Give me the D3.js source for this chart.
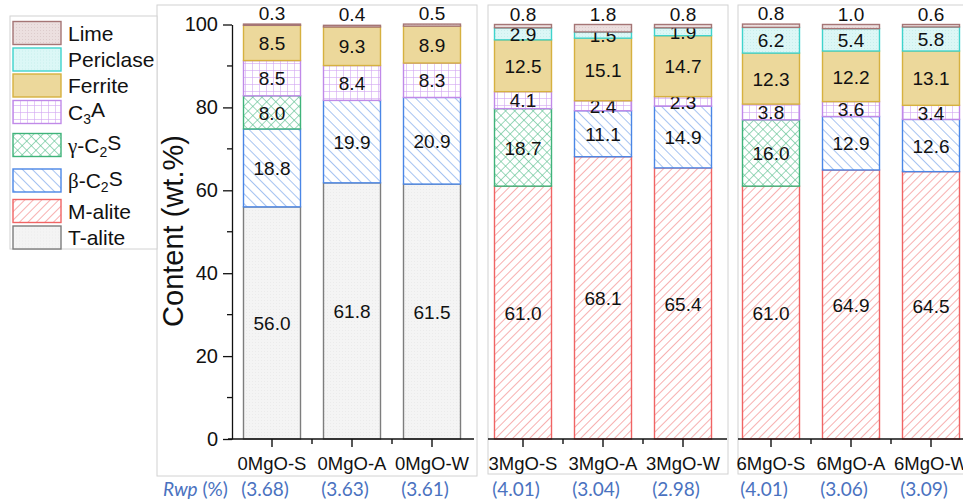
<!DOCTYPE html>
<html>
<head>
<meta charset="utf-8">
<script src="https://cdn.jsdelivr.net/npm/d3@7"></script>
<style>
  body { margin: 0; background: #fff; }
  text { font-family: "Liberation Sans", Arial, sans-serif; fill: #111; }
</style>
</head>
<body>
<script>
// samples and phase contents (wt.%)
var samples   = ["0MgO-S", "0MgO-A", "0MgO-W", "3MgO-S", "3MgO-A", "3MgO-W", "6MgO-S", "6MgO-A", "6MgO-W"];
var tAlite    = [56.0, 61.8, 61.5, 0, 0, 0, 0, 0, 0];
var mAlite    = [0, 0, 0, 61.0, 68.1, 65.4, 61.0, 64.9, 64.5];
var betaC2S   = [18.8, 19.9, 20.9, 0, 11.1, 14.9, 0, 12.9, 12.6];
var gammaC2S  = [8.0, 0, 0, 18.7, 0, 0, 16.0, 0, 0];
var c3a       = [8.5, 8.4, 8.3, 4.1, 2.4, 2.3, 3.8, 3.6, 3.4];
var ferrite   = [8.5, 9.3, 8.9, 12.5, 15.1, 14.7, 12.3, 12.2, 13.1];
var periclase = [0, 0, 0, 2.9, 1.5, 1.9, 6.2, 5.4, 5.8];
var lime      = [0.3, 0.4, 0.5, 0.8, 1.8, 0.8, 0.8, 1.0, 0.6];
var rwp       = ["3.68", "3.63", "3.61", "4.01", "3.04", "2.98", "4.01", "3.06", "3.09"];
var yTicks    = [0, 20, 40, 60, 80, 100];

// bottom to top
var keys = ["tAlite", "mAlite", "betaC2S", "gammaC2S", "c3a", "ferrite", "periclase", "lime"];
var phaseVals = {tAlite: tAlite, mAlite: mAlite, betaC2S: betaC2S, gammaC2S: gammaC2S,
                 c3a: c3a, ferrite: ferrite, periclase: periclase, lime: lime};

var style = {
  lime:      {fill: "url(#p-lime)",  stroke: "#a57575"},
  periclase: {fill: "url(#p-peri)",  stroke: "#3fd3cc"},
  ferrite:   {fill: "#ecd89b",       stroke: "#d6b13f"},
  c3a:       {fill: "url(#p-c3a)",   stroke: "#c08ae8"},
  gammaC2S:  {fill: "url(#p-gamma)", stroke: "#3fb37a"},
  betaC2S:   {fill: "url(#p-beta)",  stroke: "#4a86e6"},
  mAlite:    {fill: "url(#p-malite)",stroke: "#f06464"},
  tAlite:    {fill: "url(#p-talite)",stroke: "#7d7d7d"}
};

var table = samples.map(function(s, i) {
  var row = {sample: s};
  keys.forEach(function(k) { row[k] = phaseVals[k][i]; });
  return row;
});
var series = d3.stack().keys(keys)(table);

var W = 963, H = 502;
var svg = d3.select("body").append("svg")
    .attr("width", W)
    .attr("height", H);

// ---- patterns
var defs = svg.append("defs");
function hatch(id, angle, gap, color, cross) {
  var p = defs.append("pattern")
      .attr("id", id)
      .attr("patternUnits", "userSpaceOnUse")
      .attr("width", gap).attr("height", gap)
      .attr("patternTransform", "rotate(" + angle + ")");
  p.append("rect").attr("width", gap).attr("height", gap).attr("fill", "#fff");
  p.append("line").attr("x1", 0).attr("y1", 0).attr("x2", 0).attr("y2", gap)
      .attr("stroke", color).attr("stroke-width", 1.2);
  if (cross) {
    p.append("line").attr("x1", 0).attr("y1", 0).attr("x2", gap).attr("y2", 0)
        .attr("stroke", color).attr("stroke-width", 1.2);
  }
}
hatch("p-malite", 45, 6, "#f27a7a", false);
hatch("p-beta", -45, 7, "#6a9be8", false);
hatch("p-gamma", 45, 6.5, "#5cc08f", true);
hatch("p-c3a", 0, 7, "#d3a6f2", true);

function dots(id, bg, dot) {
  var p = defs.append("pattern")
      .attr("id", id)
      .attr("patternUnits", "userSpaceOnUse")
      .attr("width", 3).attr("height", 3);
  p.append("rect").attr("width", 3).attr("height", 3).attr("fill", bg);
  p.append("rect").attr("width", 1).attr("height", 1).attr("fill", dot);
}
dots("p-lime", "#ecdfdf", "#ddcccc");
dots("p-peri", "#dcf7f6", "#c8eeec");
dots("p-talite", "#f4f4f4", "#ebebeb");

// ---- panel frames
var panels = [
  {cats: samples.slice(0, 3), range: [232, 472], axis: [228, 474], box: [157, 5, 477, 476]},
  {cats: samples.slice(3, 6), range: [483, 723], axis: [488, 727], box: [488, 5, 728, 474]},
  {cats: samples.slice(6, 9), range: [731, 971], axis: [738, 963], box: [738, 5, 980, 474]}
];

panels.forEach(function(p) {
  svg.append("rect")
      .attr("x", p.box[0]).attr("y", p.box[1])
      .attr("width", p.box[2] - p.box[0]).attr("height", p.box[3] - p.box[1])
      .attr("fill", "none").attr("stroke", "#d2d2d2").attr("stroke-width", 1);
});

// legend box
svg.append("rect")
    .attr("x", 10).attr("y", 16)
    .attr("width", 147).attr("height", 233)
    .attr("fill", "#fff").attr("stroke", "#d2d2d2");

var y = d3.scaleLinear().domain([0, 100]).range([439, 24.5]);

// ---- bars
var xOf = {};
panels.forEach(function(p) {
  p.x = d3.scaleBand().domain(p.cats).range(p.range).paddingInner(0.2875).paddingOuter(0.14375);
  p.cats.forEach(function(c) { xOf[c] = p.x; });
});

var layers = svg.selectAll(".layer")
    .data(series)
  .enter().append("g")
    .attr("class", "layer");

layers.selectAll("rect")
    .data(function(d) { return d.filter(function(s) { return s[1] - s[0] > 0; }); })
  .enter().append("rect")
    .attr("x", function(d) { return xOf[d.data.sample](d.data.sample); })
    .attr("width", function(d) { return xOf[d.data.sample].bandwidth(); })
    .attr("y", function(d) { return y(d[1]); })
    .attr("height", function(d) { return y(d[0]) - y(d[1]); })
    .attr("fill", function() { return style[d3.select(this.parentNode).datum().key].fill; })
    .attr("stroke", function() { return style[d3.select(this.parentNode).datum().key].stroke; })
    .attr("stroke-width", 1.4);

// value labels
layers.each(function(ser) {
  var key = ser.key;
  d3.select(this).selectAll("text")
      .data(ser.filter(function(s) { return s[1] - s[0] > 0; }))
    .enter().append("text")
      .attr("x", function(d) { var x = xOf[d.data.sample]; return x(d.data.sample) + x.bandwidth() / 2; })
      .attr("y", function(d) {
        if (key === "lime") return y(d[1]) - 4;
        return (y(d[0]) + y(d[1])) / 2;
      })
      .attr("dy", key === "lime" ? 0 : "0.38em")
      .attr("text-anchor", "middle")
      .style("font-size", "19px")
      .text(function(d) { return (d[1] - d[0]).toFixed(1); });
});

// ---- y axis (first panel only)
var yAxis = svg.append("g")
    .attr("transform", "translate(232,0)")
    .call(d3.axisLeft(y).tickValues(yTicks).tickSize(9).tickSizeOuter(0).tickPadding(5));
yAxis.selectAll("text").style("font-size", "20px").attr("fill", "#111");
yAxis.selectAll("path, line").attr("stroke", "#111").attr("stroke-width", 1.3);
yAxis.selectAll(".minor")
    .data(d3.range(10, 100, 20))
  .enter().append("line")
    .attr("class", "minor")
    .attr("x1", -5).attr("x2", 0)
    .attr("y1", function(d) { return y(d); })
    .attr("y2", function(d) { return y(d); })
    .attr("stroke", "#111").attr("stroke-width", 1.3);

svg.append("text")
    .attr("transform", "translate(183,231) rotate(-90)")
    .attr("text-anchor", "middle")
    .style("font-size", "29px")
    .text("Content (wt.%)");

// ---- x axes
panels.forEach(function(p) {
  var g = svg.append("g").attr("transform", "translate(0,439)");
  g.call(d3.axisBottom(p.x).tickSize(8).tickSizeOuter(0).tickPadding(10));
  g.select(".domain").remove();
  g.append("line")
      .attr("x1", p.axis[0]).attr("x2", p.axis[1])
      .attr("stroke", "#111").attr("stroke-width", 1.8);
  g.selectAll("line").attr("stroke", "#111").attr("stroke-width", 1.4);
  g.selectAll("text").style("font-size", "18.5px").attr("fill", "#111");
  // short ticks between bars
  var step = p.x.step();
  g.selectAll(".minor")
      .data(p.cats.slice(1))
    .enter().append("line")
      .attr("class", "minor")
      .attr("x1", function(c) { return p.x(c) + p.x.bandwidth() / 2 - step / 2; })
      .attr("x2", function(c) { return p.x(c) + p.x.bandwidth() / 2 - step / 2; })
      .attr("y1", 0).attr("y2", 5)
      .attr("stroke", "#111").attr("stroke-width", 1.4);
});

// ---- Rwp row
var rwpRow = svg.append("g");
var rwpText = rwpRow.append("text")
    .attr("x", 163).attr("y", 496)
    .style("font-family", "Lato, 'Open Sans', sans-serif")
    .style("font-size", "19px")
    .style("fill", "#4a72c0");
rwpText.append("tspan").style("font-style", "italic").style("fill", "#4a72c0").text("Rwp");
rwpText.append("tspan").style("fill", "#4a72c0").text(" (%)");

rwpRow.selectAll(".rwp")
    .data(samples)
  .enter().append("text")
    .attr("class", "rwp")
    .attr("x", function(s) { return xOf[s](s) + xOf[s].bandwidth() / 2 - 7; })
    .attr("y", 496)
    .attr("text-anchor", "middle")
    .style("font-family", "Lato, 'Open Sans', sans-serif")
    .style("font-size", "19px")
    .style("fill", "#4a72c0")
    .text(function(s, i) { return "(" + rwp[i] + ")"; });

// ---- legend (top to bottom)
var legendItems = [
  {key: "lime", label: ["Lime"], yc: 33},
  {key: "periclase", label: ["Periclase"], yc: 59.5},
  {key: "ferrite", label: ["Ferrite"], yc: 85.5},
  {key: "c3a", label: ["C", "3", "A"], yc: 112},
  {key: "gammaC2S", label: ["\u03B3", "-C", "2", "S"], yc: 145},
  {key: "betaC2S", label: ["\u03B2", "-C", "2", "S"], yc: 180.5},
  {key: "mAlite", label: ["M-alite"], yc: 211},
  {key: "tAlite", label: ["T-alite"], yc: 237.5}
];

var legend = svg.selectAll(".legend")
    .data(legendItems)
  .enter().append("g")
    .attr("class", "legend")
    .attr("transform", function(d) { return "translate(13," + d.yc + ")"; });

legend.append("rect")
    .attr("x", 0).attr("y", -11.5)
    .attr("width", 48).attr("height", 23)
    .attr("fill", function(d) { return style[d.key].fill; })
    .attr("stroke", function(d) { return style[d.key].stroke; })
    .attr("stroke-width", 1.4);

legend.append("text")
    .attr("x", 55).attr("y", 0).attr("dy", "0.36em")
    .style("font-size", "21px")
    .each(function(d) {
      var t = d3.select(this);
      if (d.label.length === 1) { t.text(d.label[0]); return; }
      if (d.label.length === 3) {
        t.append("tspan").text(d.label[0]);
        t.append("tspan").attr("dy", "0.3em").style("font-size", "14px").text(d.label[1]);
        t.append("tspan").attr("dy", "-0.3em").text(d.label[2]);
        return;
      }
      t.append("tspan").style("font-family", "'Liberation Serif', serif").text(d.label[0]);
      t.append("tspan").text(d.label[1]);
      t.append("tspan").attr("dy", "0.3em").style("font-size", "14px").text(d.label[2]);
      t.append("tspan").attr("dy", "-0.3em").text(d.label[3]);
    });
</script>
</body>
</html>
